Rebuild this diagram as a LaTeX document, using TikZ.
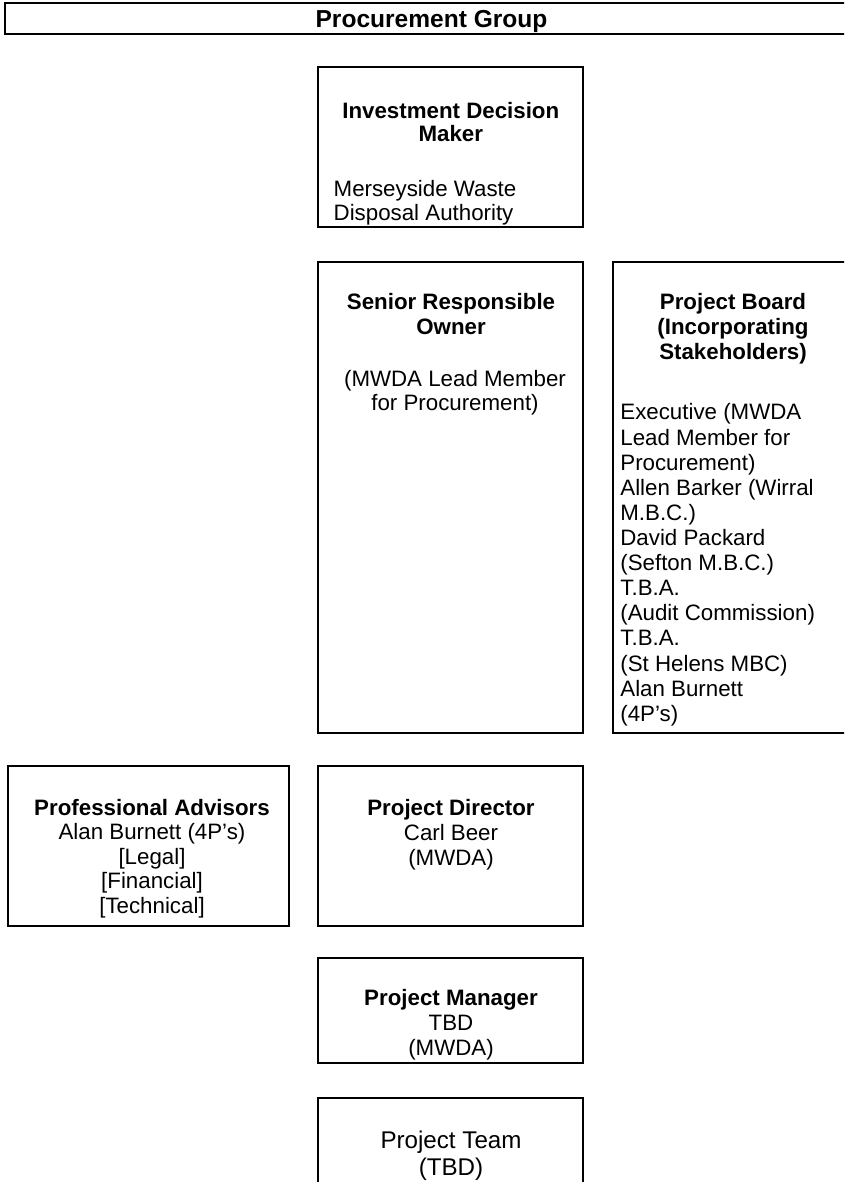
\documentclass[tikz,border=0pt]{standalone}
\usepackage{fontspec}
\setmainfont{Liberation Sans}
\usetikzlibrary{fit}
\tikzset{
  box/.style={draw, line width=1.05pt, inner sep=0pt},
  txt/.style={inner sep=0pt, anchor=base, font=\fontsize{12}{13.5}\selectfont},
  ttl/.style={inner sep=0pt, anchor=base, font=\fontsize{12}{13.5}\selectfont\bfseries},
  lft/.style={inner sep=0pt, anchor=base west, font=\fontsize{12}{13.5}\selectfont},
  hdr/.style={inner sep=0pt, anchor=base, font=\fontsize{13.2}{15}\selectfont\bfseries},
  big/.style={inner sep=0pt, anchor=base, font=\fontsize{13}{15}\selectfont},
}
\begin{document}
\begin{tikzpicture}[x=0.538pt,y=-0.538pt]
\useasboundingbox (0,0) rectangle (844,1182);
\clip (0,0) rectangle (844,1182);
% header bar
\node[box, fit={(5.3,3.3) (880,34)}] (pg) {};
\node[hdr] (pgt) at (431.5,27.5) {Procurement Group};
% Investment Decision Maker
\node[box, fit={(318.3,66.7) (583.3,226.7)}] (idm) {};
\node[ttl] (idm1) at (450.8,118.3) {Investment Decision};
\node[ttl] (idm2) at (450.8,142) {Maker};
\node[lft] (idm3) at (333.3,196.7) {Merseyside Waste};
\node[lft] (idm4) at (333.3,220.7) {Disposal Authority};
% Senior Responsible Owner
\node[box, fit={(318.3,262) (583.3,732.7)}] (sro) {};
\node[ttl] (sro1) at (451,310) {Senior Responsible};
\node[ttl] (sro2) at (451,335) {Owner};
\node[txt] (sro3) at (455,386) {(MWDA Lead Member};
\node[txt] (sro4) at (455,411) {for Procurement)};
% Project Board
\node[box, fit={(613.3,262) (853,732.7)}] (pb) {};
\node[ttl] (pbt1) at (733,310) {Project Board};
\node[ttl] (pbt2) at (733,335) {(Incorporating};
\node[ttl] (pbt3) at (733,360) {Stakeholders)};
\foreach \t [count=\i from 0] in {Executive (MWDA, Lead Member for, Procurement), Allen Barker (Wirral, M.B.C.), David Packard, (Sefton M.B.C.), T.B.A., (Audit Commission), T.B.A., (St Helens MBC), Alan Burnett, (4P’s)}
  \node[lft] (pb\i) at (620,420+25.1*\i) {\t};
% Professional Advisors
\node[box, fit={(8.3,766) (289,926)}] (pa) {};
\node[ttl] (pa1) at (152,815) {Professional Advisors};
\node[txt] (pa2) at (152,839.5) {Alan Burnett (4P’s)};
\node[txt] (pa3) at (152,864) {[Legal]};
\node[txt] (pa4) at (152,888.5) {[Financial]};
\node[txt] (pa5) at (152,913) {[Technical]};
% Project Director
\node[box, fit={(318.3,766) (583.3,926)}] (pd) {};
\node[ttl] (pd1) at (451,815) {Project Director};
\node[txt] (pd2) at (451,840) {Carl Beer};
\node[txt] (pd3) at (451,865) {(MWDA)};
% Project Manager
\node[box, fit={(318.3,958) (583.3,1063.3)}] (pm) {};
\node[ttl] (pm1) at (451,1005) {Project Manager};
\node[txt] (pm2) at (451,1030) {TBD};
\node[txt] (pm3) at (451,1055) {(MWDA)};
% Project Team
\node[box, fit={(318.3,1097.7) (583.3,1210)}] (pt) {};
\node[big] (pt1) at (451,1148) {Project Team};
\node[big] (pt2) at (451,1175) {(TBD)};
\end{tikzpicture}
\end{document}
